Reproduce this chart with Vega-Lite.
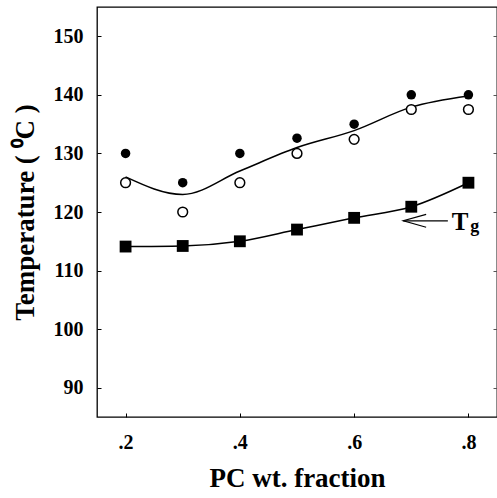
{
  "$schema": "https://vega.github.io/schema/vega-lite/v6.json",
  "width": 400,
  "height": 410,
  "autosize": {"type": "none"},
  "padding": {"left": 97, "top": 7, "right": 0, "bottom": 81},
  "background": "white",
  "config": {
    "font": "Liberation Serif",
    "view": {"stroke": "black", "strokeWidth": 1.3},
    "axis": {
      "grid": false,
      "domain": false,
      "labelFont": "Liberation Serif",
      "labelFontWeight": "bold",
      "labelFontSize": 20,
      "labelColor": "black",
      "titleFont": "Liberation Serif",
      "titleFontWeight": "bold",
      "titleFontSize": 27,
      "titleColor": "black",
      "tickColor": "black",
      "tickSize": -4
    }
  },
  "datasets": {
    "pts": [
      {"frac": 0.2, "series": "filled", "temp": 130},
      {"frac": 0.3, "series": "filled", "temp": 125},
      {"frac": 0.4, "series": "filled", "temp": 130},
      {"frac": 0.5, "series": "filled", "temp": 132.6},
      {"frac": 0.6, "series": "filled", "temp": 135},
      {"frac": 0.7, "series": "filled", "temp": 140},
      {"frac": 0.8, "series": "filled", "temp": 140},
      {"frac": 0.2, "series": "open", "temp": 125},
      {"frac": 0.3, "series": "open", "temp": 120},
      {"frac": 0.4, "series": "open", "temp": 125},
      {"frac": 0.5, "series": "open", "temp": 130},
      {"frac": 0.6, "series": "open", "temp": 132.4},
      {"frac": 0.7, "series": "open", "temp": 137.5},
      {"frac": 0.8, "series": "open", "temp": 137.5},
      {"frac": 0.2, "series": "Tg", "temp": 114.1},
      {"frac": 0.3, "series": "Tg", "temp": 114.2},
      {"frac": 0.4, "series": "Tg", "temp": 115.0},
      {"frac": 0.5, "series": "Tg", "temp": 117.0},
      {"frac": 0.6, "series": "Tg", "temp": 119.0},
      {"frac": 0.7, "series": "Tg", "temp": 120.9},
      {"frac": 0.8, "series": "Tg", "temp": 125.0}
    ],
    "fit": [
      {"frac": 0.2, "temp": 126.0},
      {"frac": 0.3, "temp": 123.0},
      {"frac": 0.4, "temp": 127.0},
      {"frac": 0.5, "temp": 131.0},
      {"frac": 0.6, "temp": 133.9},
      {"frac": 0.7, "temp": 137.9},
      {"frac": 0.8, "temp": 139.8}
    ],
    "arrow": [
      {"part": "shaft", "seq": 1, "frac": 0.686, "temp": 118.5},
      {"part": "shaft", "seq": 2, "frac": 0.764, "temp": 118.5},
      {"part": "head", "seq": 1, "frac": 0.726, "temp": 119.6},
      {"part": "head", "seq": 2, "frac": 0.686, "temp": 118.5},
      {"part": "head", "seq": 3, "frac": 0.726, "temp": 117.4}
    ],
    "labels": [
      {"frac": 0.771, "temp": 117.0, "label": "T", "kind": "main"},
      {"frac": 0.803, "temp": 116.6, "label": "g", "kind": "sub"}
    ]
  },
  "resolve": {"axis": {"y": "independent", "x": "independent"}},
  "layer": [
    {
      "data": {"name": "fit"},
      "mark": {"type": "line", "interpolate": "monotone", "color": "black", "strokeWidth": 1.5},
      "encoding": {
        "x": {
          "field": "frac", "type": "quantitative",
          "scale": {"domain": [0.15, 0.85], "nice": false, "zero": false},
          "axis": {
            "values": [0.2, 0.4, 0.6, 0.8],
            "labelExpr": "substring(format(datum.value, '.1f'), 1)",
            "labelPadding": 19,
            "title": "PC wt. fraction",
            "titlePadding": 13
          }
        },
        "y": {
          "field": "temp", "type": "quantitative",
          "scale": {"domain": [85, 155], "nice": false, "zero": false},
          "axis": {
            "values": [90, 100, 110, 120, 130, 140, 150],
            "labelPadding": 18,
            "title": "Temperature ( ⁰C )",
            "titlePadding": 14
          }
        }
      }
    },
    {
      "data": {"name": "pts"},
      "transform": [{"filter": "datum.series == 'Tg'"}],
      "mark": {"type": "line", "interpolate": "monotone", "color": "black", "strokeWidth": 1.5},
      "encoding": {
        "x": {"field": "frac", "type": "quantitative", "axis": null},
        "y": {
          "field": "temp", "type": "quantitative",
          "axis": {"orient": "right", "values": [90, 100, 110, 120, 130, 140, 150], "labels": false, "title": null, "tickColor": "#555"}
        }
      }
    },
    {
      "data": {"name": "pts"},
      "transform": [{"filter": "datum.series == 'filled'"}],
      "mark": {"type": "point", "shape": "circle", "filled": true, "color": "black", "size": 90, "opacity": 1},
      "encoding": {
        "x": {"field": "frac", "type": "quantitative", "axis": null},
        "y": {"field": "temp", "type": "quantitative", "axis": null}
      }
    },
    {
      "data": {"name": "pts"},
      "transform": [{"filter": "datum.series == 'open'"}],
      "mark": {"type": "point", "shape": "circle", "filled": false, "fill": "white", "stroke": "black", "strokeWidth": 1.5, "size": 95, "opacity": 1},
      "encoding": {
        "x": {"field": "frac", "type": "quantitative", "axis": null},
        "y": {"field": "temp", "type": "quantitative", "axis": null}
      }
    },
    {
      "data": {"name": "pts"},
      "transform": [{"filter": "datum.series == 'Tg'"}],
      "mark": {"type": "point", "shape": "square", "filled": true, "color": "black", "size": 140, "opacity": 1},
      "encoding": {
        "x": {"field": "frac", "type": "quantitative", "axis": null},
        "y": {"field": "temp", "type": "quantitative", "axis": null}
      }
    },
    {
      "data": {"name": "arrow"},
      "mark": {"type": "line", "color": "black", "strokeWidth": 1.2},
      "encoding": {
        "x": {"field": "frac", "type": "quantitative", "axis": null},
        "y": {"field": "temp", "type": "quantitative", "axis": null},
        "detail": {"field": "part"},
        "order": {"field": "seq"}
      }
    },
    {
      "data": {"name": "labels"},
      "transform": [{"filter": "datum.kind == 'main'"}],
      "mark": {"type": "text", "align": "left", "baseline": "alphabetic", "font": "Liberation Serif", "fontWeight": "bold", "fontSize": 25, "color": "black"},
      "encoding": {
        "x": {"field": "frac", "type": "quantitative", "axis": null},
        "y": {"field": "temp", "type": "quantitative", "axis": null},
        "text": {"field": "label"}
      }
    },
    {
      "data": {"name": "labels"},
      "transform": [{"filter": "datum.kind == 'sub'"}],
      "mark": {"type": "text", "align": "left", "baseline": "alphabetic", "font": "Liberation Serif", "fontWeight": "bold", "fontSize": 18, "color": "black"},
      "encoding": {
        "x": {"field": "frac", "type": "quantitative", "axis": null},
        "y": {"field": "temp", "type": "quantitative", "axis": null},
        "text": {"field": "label"}
      }
    }
  ]
}
